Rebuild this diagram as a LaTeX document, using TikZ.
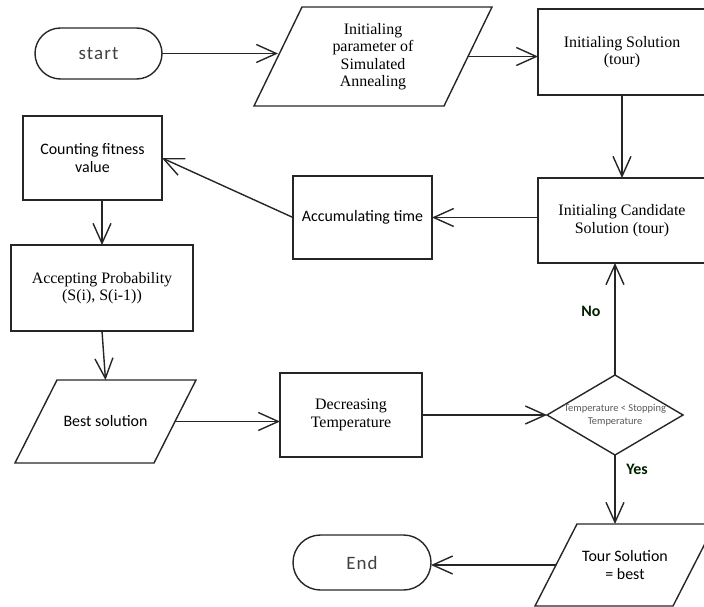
\documentclass[tikz,border=0pt]{standalone}
\usepackage{fontspec}
\setmainfont{Liberation Serif}
\newfontfamily\calib{Carlito}
\newfontfamily\calibsp[LetterSpace=6]{Carlito}
\usetikzlibrary{shapes.geometric,shapes.misc,arrows.meta}
\begin{document}
\begin{tikzpicture}[x=1bp,y=-1bp,
  every node/.style={align=center, inner sep=0pt, outer sep=0pt},
  base/.style={draw=black!85, line width=1.4bp},
  serif/.style={font=\fontsize{16}{17.5}\selectfont},
  sans/.style={font=\calib\fontsize{16}{18}\selectfont},
  box/.style={base, rectangle},
  paratext/.style={rectangle},
  paraline/.style={draw=black!85, line width=1.4bp, line join=miter},
  term/.style={base, rounded rectangle, text=black!75, font=\calibsp\fontsize{19}{21}\selectfont},
  decis/.style={base, diamond},
  conn/.style={line width=1.4bp, draw=black!85, -{Straight Barb[length=20bp,width=18bp,line width=1.4bp]}},
  lbl/.style={font=\calib\bfseries\fontsize{16}{18}\selectfont, text=black!88!green},
  small/.style={font=\calib\fontsize{10.5}{13}\selectfont, text=black!65}
]
\useasboundingbox (0,0) rectangle (704,607);
\clip (0,0) rectangle (704,607);

% nodes
\node[term, minimum width=127bp, minimum height=51bp] (start) at (98.5,53.5) {start};
\node[paratext, serif, minimum width=190bp, minimum height=99bp] (param) at (373,56.5) {Initialing\\parameter of\\Simulated\\Annealing};
\draw[paraline] ([xshift=24bp]param.north west) -- ([xshift=24bp]param.north east) -- ([xshift=-24bp]param.south east) -- ([xshift=-24bp]param.south west) -- cycle;
\node[box, serif, minimum width=168bp, minimum height=86bp] (initsol) at (622,52) {Initialing Solution\\(tour)};
\node[box, serif, minimum width=168bp, minimum height=85bp] (cand) at (622,220.5) {Initialing Candidate\\Solution (tour)};
\node[box, sans, minimum width=139bp, minimum height=83bp] (acc) at (362.5,217.5) {Accumulating time};
\node[box, sans, minimum width=139bp, minimum height=84bp] (count) at (92.5,158) {Counting fitness\\value};
\node[box, serif, minimum width=182bp, minimum height=86bp] (prob) at (102,288) {Accepting Probability\\(S(i), S(i-1))};
\node[paratext, sans, minimum width=139bp, minimum height=83bp] (best) at (105.5,421.5) {Best solution};
\draw[paraline] ([xshift=21bp]best.north west) -- ([xshift=21bp]best.north east) -- ([xshift=-21bp]best.south east) -- ([xshift=-21bp]best.south west) -- cycle;
\node[box, serif, minimum width=142bp, minimum height=84bp] (decr) at (351,415) {Decreasing\\Temperature};
\node[decis, minimum width=136bp, minimum height=80bp] (dia) at (615,415) {};
\node[small] (diatext) at (615,415.5) {Temperature < Stopping\\Temperature};
\node[paratext, sans, minimum width=138bp, minimum height=82bp] (tour) at (625,565) {Tour Solution\\= best};
\draw[paraline] ([xshift=21bp]tour.north west) -- ([xshift=21bp]tour.north east) -- ([xshift=-21bp]tour.south east) -- ([xshift=-21bp]tour.south west) -- cycle;
\node[term, minimum width=138bp, minimum height=55bp] (end) at (362,562.5) {End};

% labels
\node[lbl] (no) at (591,311) {No};
\node[lbl] (yes) at (637,469) {Yes};

% connectors
\draw[conn] (start.east) -- (start.east -| param.west);
\draw[conn] (param.east) -- (param.east -| initsol.west);
\draw[conn] (initsol.south) -- (cand.north);
\draw[conn] (cand.west |- acc.east) -- (acc.east);
\draw[conn] (acc.west) -- (count.east);
\draw[conn] (count.south -| prob.north) -- (prob.north);
\draw[conn] (prob.south) -- (best.north);
\draw[conn] (best.east) -- (best.east -| decr.west);
\draw[conn] (decr.east) -- (dia.west);
\draw[conn] (dia.north) -- (dia.north |- cand.south);
\draw[conn] (dia.south) -- (dia.south |- tour.north);
\draw[conn] (tour.west) -- (tour.west -| end.east);
\end{tikzpicture}
\end{document}
